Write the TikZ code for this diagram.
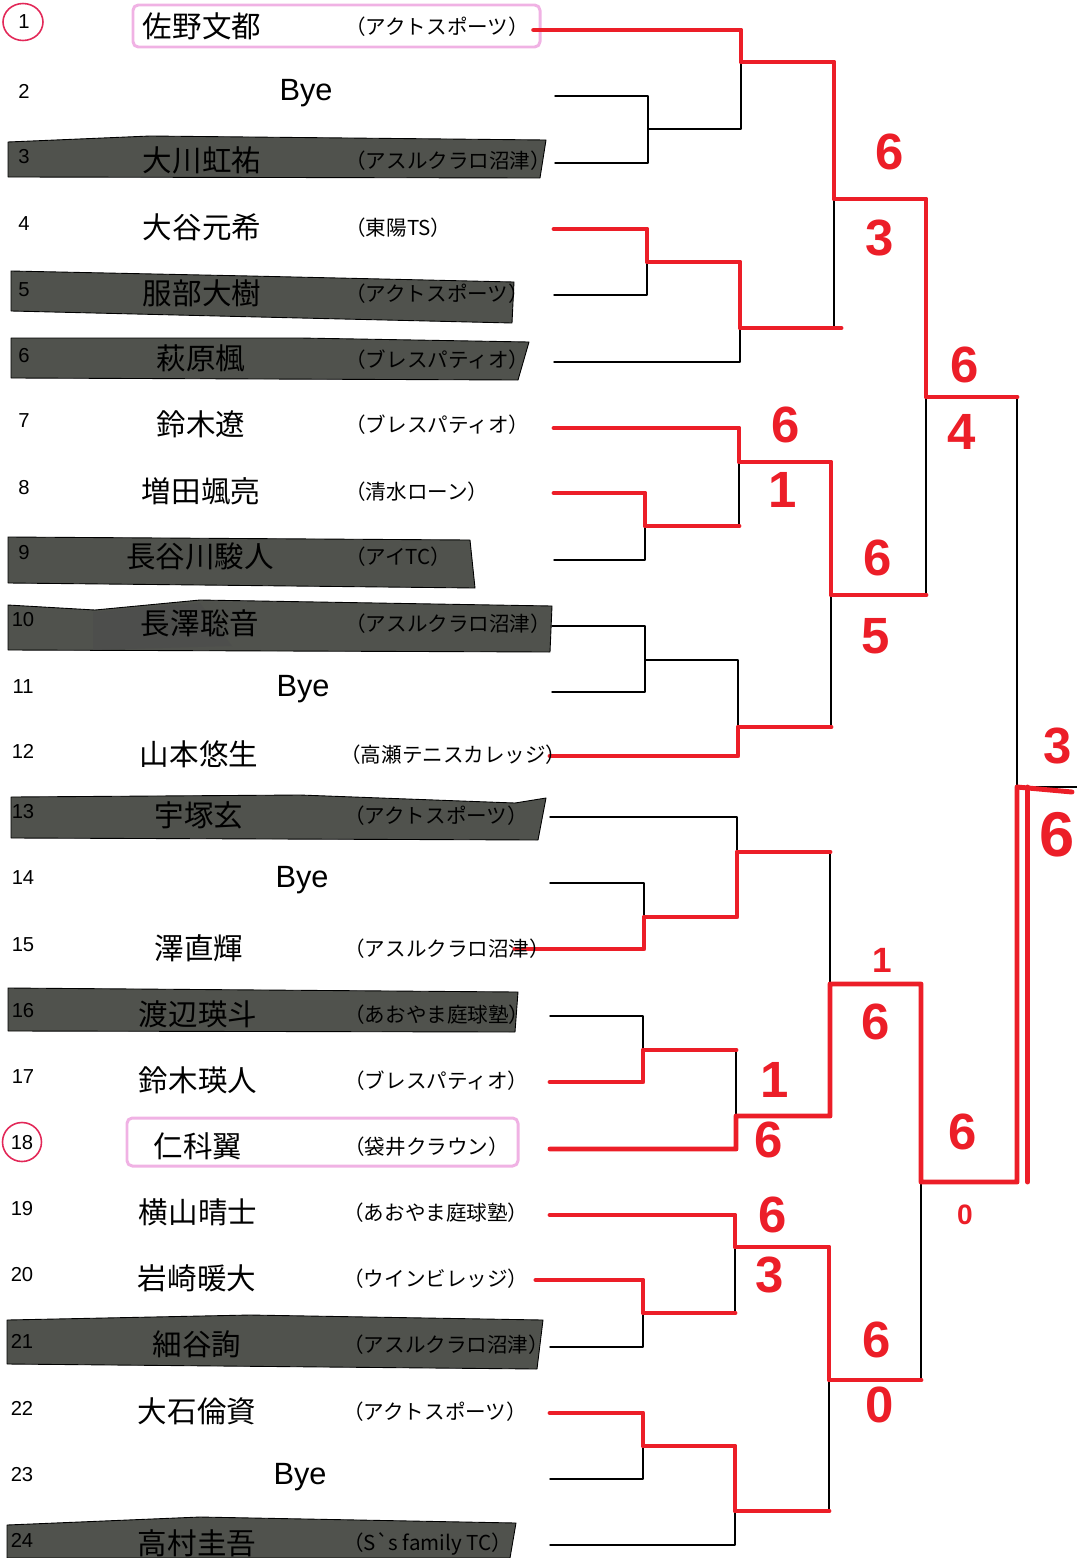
\documentclass[tikz,border=0pt]{standalone}
\usepackage{fontspec}
\setmainfont{Liberation Sans}
\newfontfamily\jp{Noto Sans CJK JP}
\definecolor{pen}{RGB}{236,30,40}
\definecolor{hilite}{RGB}{240,178,228}
\definecolor{tapegray}{RGB}{80,82,77}
\definecolor{circ}{RGB}{226,40,88}

\begin{document}
\begin{tikzpicture}[x=0.02cm,y=-0.02cm,line cap=round,line join=round,
  bk/.style={line width=0.85pt},
  win/.style={color=pen,line width=2.8pt},
  tape/.style={fill=tapegray,draw=black,line width=0.5pt},
  num/.style={inner sep=0pt,font=\fontsize{11.5}{12}\selectfont},
  pname/.style={inner sep=0pt,font=\jp\fontsize{16.8}{17}\selectfont},
  club/.style={inner sep=0pt,anchor=west,font=\jp\fontsize{11.7}{12}\selectfont},
  bye/.style={inner sep=0pt,font=\fontsize{17.5}{18}\selectfont},
  score/.style={inner sep=0pt,text=pen,font=\fontsize{29}{29}\selectfont\bfseries}]
\useasboundingbox (0,0) rectangle (1077,1558);
%\clip (0,0) rectangle (1077,1558);

% entry lines
\coordinate (p1) at (553,30);
\coordinate (p2) at (555,96);
\coordinate (p3) at (555,163);
\coordinate (p4) at (554,229);
\coordinate (p5) at (554,295);
\coordinate (p6) at (554,362);
\coordinate (p7) at (554,428);
\coordinate (p8) at (554,493);
\coordinate (p9) at (554,560);
\coordinate (p10) at (552,626);
\coordinate (p11) at (552,692);
\coordinate (p12) at (550,756);
\coordinate (p13) at (550,817);
\coordinate (p14) at (550,883);
\coordinate (p15) at (550,949);
\coordinate (p16) at (550,1016);
\coordinate (p17) at (550,1082);
\coordinate (p18) at (550,1149);
\coordinate (p19) at (550,1215);
\coordinate (p20) at (550,1280);
\coordinate (p21) at (550,1347);
\coordinate (p22) at (550,1413);
\coordinate (p23) at (550,1479);
\coordinate (p24) at (550,1545);
% round 1
\coordinate (a23) at (648,129);
\coordinate (a45) at (647,262);
\coordinate (a89) at (645,526);
\coordinate (a1011) at (645,660);
\coordinate (a1415) at (644,917);
\coordinate (a1617) at (643,1050);
\coordinate (a2021) at (643,1313);
\coordinate (a2223) at (643,1446);
% round 2
\coordinate (b1) at (741,62);
\coordinate (b6) at (740,328);
\coordinate (b7) at (739,462);
\coordinate (b12) at (738,727);
\coordinate (b13) at (737,852);
\coordinate (b18) at (736,1116);
\coordinate (b19) at (735,1247);
\coordinate (b24) at (735,1511);
% round 3
\coordinate (c1) at (834,199);
\coordinate (c2) at (831,595);
\coordinate (c3) at (830,984);
\coordinate (c4) at (829,1380);
% semi final and final
\coordinate (d1) at (926,397);
\coordinate (d2) at (921,1182);
\coordinate (f) at (1017,787);
\coordinate (fend) at (1077,787);
\coordinate (ftick) at (1072,792);

% highlight boxes
\draw [hilite,line width=1.7pt,rounded corners=3pt] (133,5) rectangle (540,47);
\draw [hilite,line width=1.7pt,rounded corners=3pt] (127,1118) rectangle (518,1166);

% redaction tape
\draw [tape] (8,142) -- (150,136) -- (546,140) -- (540,178) -- (8,177) -- cycle;
\draw [tape] (11,271) -- (250,276) -- (514,282) -- (512,323) -- (300,318) -- (11,311) -- cycle;
\draw [tape] (11,338) -- (300,338) -- (529,342) -- (518,380) -- (11,378) -- cycle;
\draw [tape] (8,537) -- (470,540) -- (475,588) -- (200,585) -- (8,583) -- cycle;
\draw [tape] (8,605) -- (95,610) -- (200,600) -- (552,606) -- (550,652) -- (8,650) -- cycle;
\fill [black!70,opacity=0.6] (93,612) -- (200,603) -- (232,646) -- (93,650) -- cycle;
\draw [tape] (11,797) -- (300,795) -- (515,803) -- (546,798) -- (538,840) -- (11,838) -- cycle;
\draw [tape] (8,988) -- (518,992) -- (515,1032) -- (8,1031) -- cycle;
\draw [tape] (7,1320) -- (250,1315) -- (543,1320) -- (537,1369) -- (7,1364) -- cycle;
\draw [tape] (7,1525) -- (200,1517) -- (516,1523) -- (510,1558) -- (7,1558) -- cycle;

% bracket
\draw [bk] (p2) -| (a23) |- (p3);
\draw [bk] (p4) -| (a45) |- (p5);
\draw [bk] (p8) -| (a89) |- (p9);
\draw [bk] (p10) -| (a1011) |- (p11);
\draw [bk] (p14) -| (a1415) |- (p15);
\draw [bk] (p16) -| (a1617) |- (p17);
\draw [bk] (p20) -| (a2021) |- (p21);
\draw [bk] (p22) -| (a2223) |- (p23);
\draw [bk] (p1) -| (b1) |- (a23);
\draw [bk] (a45) -| (b6) |- (p6);
\draw [bk] (p7) -| (b7) |- (a89);
\draw [bk] (a1011) -| (b12) |- (p12);
\draw [bk] (p13) -| (b13) |- (a1415);
\draw [bk] (a1617) -| (b18) |- (p18);
\draw [bk] (p19) -| (b19) |- (a2021);
\draw [bk] (a2223) -| (b24) |- (p24);
\draw [bk] (b1) -| (c1) |- (b6);
\draw [bk] (b7) -| (c2) |- (b12);
\draw [bk] (b13) -| (c3) |- (b18);
\draw [bk] (b19) -| (c4) |- (b24);
\draw [bk] (c1) -| (d1) |- (c2);
\draw [bk] (c3) -| (d2) |- (c4);
\draw [bk] (d1) -| (f) |- (d2);
\draw [bk] (f) -- (fend);

% winners
\draw [win] ([xshift=-11]p1) -| (b1) -| (c1) -| (d1) -- (d1 -| f);
\draw [win] (p4) -| (a45) -| (b6) -- ([xshift=4]b6 -| c1);
\draw [win] (p7) -| (b7) -| (c2) -- (c2 -| d1);
\draw [win] (p8) -| (a89) -- (a89 -| b7);
\draw [win] (p12) -| (b12) -- (b12 -| c2);
\draw [win] ([xshift=-20]p15) -| (a1415) -| (b13) -- (b13 -| c3);
\draw [win] (p17) -| (a1617) -- (a1617 -| b18);
\draw [win] (p18) -| (b18) -| (c3) -| (d2) -- (d2 -| f) -- (f) -- (ftick);
\draw [win] ([xshift=6]d2 -| f) -- ([xshift=6]f);
\draw [win] (p19) -| (b19) -| (c4) -- (c4 -| d2);
\draw [win] ([xshift=-8]p20) -| (a2021) -- (a2021 -| b19);
\draw [win] (p22) -| (a2223) -| (b24) -- (b24 -| c4);

% scores
\node[score] (s1a) at (890,152) {6};
\node[score] (s1b) at (880,238) {3};
\node[score] (s2a) at (786,425) {6};
\node[score] (s2b) at (783,490) {1};
\node[score] (s3a) at (878,558) {6};
\node[score] (s3b) at (876,636) {5};
\node[score] (s4a) at (965,365) {6};
\node[score] (s4b) at (962,432) {4};
\node[score] (s5a) at (1058,746) {3};
\node[score,font=\fontsize{36}{36}\selectfont\bfseries] (s5b) at (1057,835) {6};
\node[score,font=\fontsize{20}{20}\selectfont\bfseries] (s6a) at (882,960) {1};
\node[score] (s6b) at (876,1022) {6};
\node[score] (s7a) at (775,1080) {1};
\node[score] (s7b) at (769,1140) {6};
\node[score] (s8a) at (963,1132) {6};
\node[score,font=\fontsize{16}{16}\selectfont\bfseries] (s8b) at (965,1215) {0};
\node[score] (s9a) at (773,1215) {6};
\node[score] (s9b) at (770,1275) {3};
\node[score] (s10a) at (877,1340) {6};
\node[score] (s10b) at (880,1405) {0};

% seeds
\draw [circ,line width=0.9pt] (23,22) ellipse (0.4cm and 0.37cm);
\draw [circ,line width=0.9pt] (22,1142) circle (0.39cm);

% draw numbers, players, clubs
\node[num] (num1) at (24,22) {1};
\node[pname] (pl1) at (202,26) {佐野文都};
\node[club] (cl1) at (345,27) {（アクトスポーツ）};
\node[num] (num2) at (24,91) {2};
\node[bye] (bye2) at (306,93) {Bye};
\node[num] (num3) at (24,157) {3};
\node[pname] (pl3) at (202,160) {大川虹祐};
\node[club] (cl3) at (345,161) {（アスルクラロ沼津）};
\node[num] (num4) at (24,224) {4};
\node[pname] (pl4) at (202,227) {大谷元希};
\node[club] (cl4) at (345,228) {（東陽TS）};
\node[num] (num5) at (24,290) {5};
\node[pname] (pl5) at (202,293) {服部大樹};
\node[club] (cl5) at (345,294) {（アクトスポーツ）};
\node[num] (num6) at (24,356) {6};
\node[pname] (pl6) at (201,359) {萩原楓};
\node[club] (cl6) at (345,360) {（ブレスパティオ）};
\node[num] (num7) at (24,421) {7};
\node[pname] (pl7) at (201,424) {鈴木遼};
\node[club] (cl7) at (345,425) {（ブレスパティオ）};
\node[num] (num8) at (24,488) {8};
\node[pname] (pl8) at (201,491) {増田颯亮};
\node[club] (cl8) at (345,492) {（清水ローン）};
\node[num] (num9) at (24,553) {9};
\node[pname] (pl9) at (200,556) {長谷川駿人};
\node[club] (cl9) at (345,557) {（アイTC）};
\node[num] (num10) at (23,620) {10};
\node[pname] (pl10) at (200,623) {長澤聡音};
\node[club] (cl10) at (345,624) {（アスルクラロ沼津）};
\node[num] (num11) at (23,687) {11};
\node[bye] (bye11) at (303,689) {Bye};
\node[num] (num12) at (23,751) {12};
\node[pname] (pl12) at (199,754) {山本悠生};
\node[club] (cl12) at (340,755) {（高瀬テニスカレッジ）};
\node[num] (num13) at (23,812) {13};
\node[pname] (pl13) at (199,815) {宇塚玄};
\node[club] (cl13) at (344,816) {（アクトスポーツ）};
\node[num] (num14) at (23,878) {14};
\node[bye] (bye14) at (302,880) {Bye};
\node[num] (num15) at (23,945) {15};
\node[pname] (pl15) at (199,948) {澤直輝};
\node[club] (cl15) at (344,949) {（アスルクラロ沼津）};
\node[num] (num16) at (23,1011) {16};
\node[pname] (pl16) at (198,1014) {渡辺瑛斗};
\node[club] (cl16) at (344,1015) {（あおやま庭球塾）};
\node[num] (num17) at (23,1077) {17};
\node[pname] (pl17) at (198,1080) {鈴木瑛人};
\node[club] (cl17) at (344,1081) {（ブレスパティオ）};
\node[num] (num18) at (22,1143) {18};
\node[pname] (pl18) at (198,1146) {仁科翼};
\node[club] (cl18) at (344,1147) {（袋井クラウン）};
\node[num] (num19) at (22,1209) {19};
\node[pname] (pl19) at (198,1212) {横山晴士};
\node[club] (cl19) at (343,1213) {（あおやま庭球塾）};
\node[num] (num20) at (22,1275) {20};
\node[pname] (pl20) at (197,1278) {岩崎暖大};
\node[club] (cl20) at (343,1279) {（ウインビレッジ）};
\node[num] (num21) at (22,1341) {21};
\node[pname] (pl21) at (197,1344) {細谷詢};
\node[club] (cl21) at (343,1345) {（アスルクラロ沼津）};
\node[num] (num22) at (22,1408) {22};
\node[pname] (pl22) at (197,1411) {大石倫資};
\node[club] (cl22) at (343,1412) {（アクトスポーツ）};
\node[num] (num23) at (22,1475) {23};
\node[bye] (bye23) at (300,1477) {Bye};
\node[num] (num24) at (22,1540) {24};
\node[pname] (pl24) at (197,1543) {高村圭吾};
\node[club] (cl24) at (343,1544) {（S\textasciigrave s family TC）};
\end{tikzpicture}
\end{document}
